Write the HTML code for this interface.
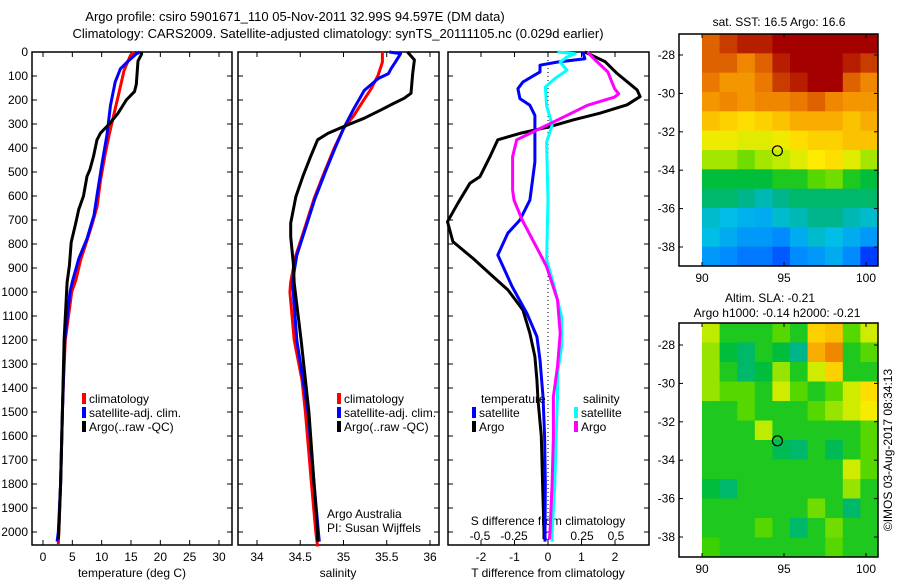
<!DOCTYPE html>
<html><head><meta charset="utf-8"><style>
html,body{margin:0;padding:0;background:#fff;}
svg{display:block;font-family:"Liberation Sans",sans-serif;}
</style></head><body>
<svg id="fig" width="900" height="580" viewBox="0 0 900 580" xmlns="http://www.w3.org/2000/svg">
<rect width="900" height="580" fill="#fff"/>
<text x="295" y="21" font-size="13" text-anchor="middle">Argo profile: csiro 5901671_110 05-Nov-2011 32.99S 94.597E (DM data)</text>
<text x="338" y="38" font-size="13" text-anchor="middle">Climatology: CARS2009. Satellite-adjusted climatology: synTS_20111105.nc (0.029d earlier)</text>
<g id="plots"></g>
</svg>
<script>
// ---- data ----
const depthTicks=[0,100,200,300,400,500,600,700,800,900,1000,1100,1200,1300,1400,1500,1600,1700,1800,1900,2000];
const tempTicks=[0,5,10,15,20,25,30];
const salTicks=[34,34.5,35,35.5,36];
const tdiffTicks=[-2,-1,0,1,2];
const sdiffTicks=[-0.5,-0.25,0,0.25,0.5];
const latTicks=[-28,-30,-32,-34,-36,-38];
const lonTicks=[90,95,100];

const tClimDepth=[0,14,78,175,258,342,425,535,646,715,785,868,950,1000,1200,1367,1500,1800,2000,2050];
const tClimVal=[15.5,14.9,13.8,12.9,12.1,11.3,10.6,9.8,9.2,8.4,7.5,6.4,5.6,4.9,3.8,3.5,3.3,3.0,2.7,2.6];
const tSatDepth=[0,8,36,70,125,222,347,458,597,680,778,861,958,1000,1200,1500,1800,2000,2040];
const tSatVal=[16.5,15.9,14.6,13.2,12.3,11.5,10.9,10.1,9.2,8.7,7.5,6.1,5.0,4.6,3.7,3.3,3.0,2.6,2.4];
const tArgoDepth=[0,9,37,135,165,200,255,297,338,366,435,490,518,600,655,710,793,890,960,1200,1500,1800,2000,2030];
const tArgoVal=[16.8,16.8,16.2,15.9,15.6,14.2,12.8,11.4,9.8,9.2,8.6,8.0,7.5,6.9,6.1,5.6,4.8,4.5,4.1,3.6,3.3,3.0,2.7,2.6];

const sClimDepth=[0,42,97,153,208,264,319,403,500,611,736,847,958,1000,1200,1367,1500,1800,2000,2060];
const sClimVal=[35.45,35.45,35.40,35.32,35.22,35.12,35.0,34.89,34.78,34.66,34.55,34.45,34.39,34.38,34.43,34.52,34.56,34.63,34.68,34.70];
const sSatDepth=[0,7,42,69,90,111,160,236,319,403,500,611,736,847,958,1200,1500,1800,2000,2040];
const sSatVal=[35.53,35.66,35.60,35.55,35.52,35.40,35.24,35.12,35.0,34.90,34.79,34.67,34.56,34.46,34.41,34.46,34.59,34.66,34.71,34.72];
const sArgoDepth=[0,33,89,172,193,214,242,276,311,339,366,436,519,602,713,769,880,963,1200,1500,1800,2000,2040];
const sArgoVal=[35.74,35.82,35.80,35.78,35.70,35.58,35.43,35.24,35.0,34.82,34.70,34.62,34.53,34.45,34.39,34.39,34.42,34.43,34.51,34.60,34.66,34.70,34.70];

const dtSatDepth=[0,28,42,55,83,125,153,194,222,264,366,458,617,700,755,846,978,1089,1186,1283,1436,1600,1800,2000,2040];
const dtSatVal=[1.04,1.1,0.27,-0.24,-0.24,-0.75,-0.9,-0.84,-0.54,-0.39,-0.39,-0.39,-0.54,-0.84,-1.2,-1.5,-1.07,-0.63,-0.33,-0.24,-0.15,-0.1,-0.08,-0.09,-0.09];
const dtArgoDepth=[0,40,89,158,186,220,255,283,311,339,366,436,519,547,630,707,790,860,936,992,1075,1172,1269,1366,1450,1600,1800,2000,2030];
const dtArgoVal=[1.1,1.7,2.06,2.66,2.75,2.36,1.55,0.75,0.06,-0.84,-1.5,-1.73,-2.03,-2.33,-2.69,-3.0,-2.84,-2.24,-1.64,-1.19,-0.75,-0.54,-0.39,-0.33,-0.3,-0.2,-0.16,-0.12,-0.12];
const dsSatDepth=[0,7,21,42,76,111,146,222,305,375,617,866,964,1103,1228,1339,1436,1600,1800,2000,2040];
const dsSatVal=[0.07,0.2,0.14,0.09,0.14,0.05,-0.02,-0.01,0.03,-0.01,0.0,-0.01,0.04,0.1,0.1,0.07,0.07,0.06,0.05,0.03,0.03];
const dsArgoDepth=[0,35,83,153,174,188,222,278,319,366,436,575,617,700,839,894,1033,1172,1311,1436,1600,1800,2000,2030];
const dsArgoVal=[0.29,0.35,0.44,0.49,0.52,0.49,0.29,0.09,-0.06,-0.23,-0.26,-0.26,-0.25,-0.19,-0.06,-0.01,0.07,0.09,0.07,0.04,0.04,0.03,0.015,0.01];

const sstGrid=[
[0.85,0.9,0.95,0.95,1,1,1,1,1,1],
[0.85,0.85,0.8,0.85,0.95,1,1,1,0.95,0.9],
[0.82,0.78,0.78,0.82,0.9,0.95,1,1,0.85,0.8],
[0.78,0.8,0.78,0.8,0.8,0.82,0.85,0.8,0.78,0.78],
[0.72,0.7,0.68,0.7,0.72,0.75,0.75,0.75,0.72,0.75],
[0.64,0.64,0.62,0.62,0.64,0.68,0.7,0.7,0.72,0.72],
[0.56,0.56,0.52,0.56,0.58,0.62,0.66,0.68,0.62,0.56],
[0.42,0.42,0.42,0.42,0.45,0.45,0.5,0.52,0.45,0.42],
[0.38,0.38,0.35,0.32,0.35,0.38,0.38,0.38,0.38,0.38],
[0.3,0.28,0.26,0.25,0.3,0.32,0.35,0.35,0.32,0.3],
[0.28,0.25,0.22,0.22,0.2,0.25,0.3,0.28,0.25,0.22],
[0.22,0.2,0.18,0.18,0.15,0.2,0.22,0.25,0.2,0.12]];
const slaGrid=[
[0.58,0.45,0.45,0.45,0.5,0.45,0.7,0.72,0.5,0.6],
[0.55,0.42,0.38,0.45,0.42,0.35,0.75,0.8,0.45,0.5],
[0.55,0.45,0.38,0.42,0.55,0.45,0.6,0.7,0.45,0.45],
[0.55,0.5,0.5,0.45,0.6,0.5,0.45,0.5,0.6,0.68],
[0.45,0.45,0.5,0.45,0.45,0.45,0.5,0.55,0.6,0.65],
[0.45,0.45,0.45,0.58,0.45,0.45,0.45,0.45,0.45,0.5],
[0.45,0.45,0.45,0.45,0.4,0.38,0.45,0.4,0.45,0.5],
[0.45,0.45,0.45,0.45,0.45,0.45,0.45,0.45,0.6,0.5],
[0.42,0.38,0.45,0.45,0.45,0.45,0.45,0.45,0.55,0.45],
[0.45,0.45,0.45,0.45,0.45,0.45,0.52,0.45,0.38,0.45],
[0.45,0.45,0.45,0.5,0.45,0.38,0.45,0.52,0.45,0.45],
[0.48,0.45,0.45,0.45,0.45,0.45,0.45,0.5,0.45,0.45]];
const floatLon=94.597, floatLat=-32.99;

// ---- drawing ----
const NS="http://www.w3.org/2000/svg";
const root=document.getElementById('plots');
function mk(tag,attrs,parent){const e=document.createElementNS(NS,tag);for(const k in attrs)e.setAttribute(k,attrs[k]);(parent||root).appendChild(e);return e;}
const yD=d=>52+d*0.24;
const TOP=52,BOT=545;

function panel(name,x0,x1){
  const r=mk('rect',{x:x0,y:TOP,width:x1-x0,height:BOT-TOP,fill:'none',stroke:'#000','stroke-width':1.5});
  
  
}
function line(name,depths,vals,fx,color){
  const pts=depths.map((d,i)=>fx(vals[i]).toFixed(1)+','+yD(d).toFixed(1)).join(' ');
  const p=mk('polyline',{points:pts,fill:'none',stroke:color,'stroke-width':3,'stroke-linejoin':'round'});
  
  
}
function txt(name,x,y,s,opts){
  const t=mk('text',Object.assign({x:x,y:y,'font-size':12},opts||{}));t.textContent=s;
  
  
  return t;
}
function legend(name,x,y,color,label){
  const r=mk('rect',{x:x,y:y-10,width:4,height:11,fill:color});
  
  
  txt(name+'-label',x+7,y,label);
}

// panel 1 temperature
const fT=v=>43+v*(219-43)/30;
panel('temperature-panel',32,232);
depthTicks.forEach(d=>{
  mk('line',{x1:32,x2:37,y1:yD(d),y2:yD(d),stroke:'#000'});
  mk('line',{x1:227,x2:232,y1:yD(d),y2:yD(d),stroke:'#000'});
  txt('depth-tick-'+d,28,yD(d)+4,String(d),{'text-anchor':'end'});
});
tempTicks.forEach(v=>{
  mk('line',{x1:fT(v),x2:fT(v),y1:BOT,y2:BOT-5,stroke:'#000'});
  mk('line',{x1:fT(v),x2:fT(v),y1:TOP,y2:TOP+5,stroke:'#000'});
  txt('temp-tick-'+v,fT(v),561,String(v),{'text-anchor':'middle'});
});
txt('temperature-axis-title',132,577,'temperature (deg C)',{'text-anchor':'middle'});
line('temp-climatology',tClimDepth,tClimVal,fT,'#f00');
line('temp-satellite-adj',tSatDepth,tSatVal,fT,'#00f');
line('temp-argo',tArgoDepth,tArgoVal,fT,'#000');
legend('temp-legend-climatology',82,403,'#f00','climatology');
legend('temp-legend-satellite',82,417,'#00f','satellite-adj. clim.');
legend('temp-legend-argo',82,431,'#000','Argo(..raw -QC)');

// panel 2 salinity
const fS=v=>257+(v-34)*(430-257)/2;
panel('salinity-panel',238,439);
depthTicks.forEach(d=>{
  mk('line',{x1:238,x2:243,y1:yD(d),y2:yD(d),stroke:'#000'});
  mk('line',{x1:434,x2:439,y1:yD(d),y2:yD(d),stroke:'#000'});
});
salTicks.forEach(v=>{
  mk('line',{x1:fS(v),x2:fS(v),y1:BOT,y2:BOT-5,stroke:'#000'});
  mk('line',{x1:fS(v),x2:fS(v),y1:TOP,y2:TOP+5,stroke:'#000'});
  txt('sal-tick-'+v,fS(v),561,String(v),{'text-anchor':'middle'});
});
txt('salinity-axis-title',338,577,'salinity',{'text-anchor':'middle'});
line('sal-climatology',sClimDepth,sClimVal,fS,'#f00');
line('sal-satellite-adj',sSatDepth,sSatVal,fS,'#00f');
line('sal-argo',sArgoDepth,sArgoVal,fS,'#000');
legend('sal-legend-climatology',337,403,'#f00','climatology');
legend('sal-legend-satellite',337,417,'#00f','satellite-adj. clim.');
legend('sal-legend-argo',337,431,'#000','Argo(..raw -QC)');
txt('argo-australia-label',327,518,'Argo Australia');
txt('pi-label',327,532,'PI: Susan Wijffels');

// panel 3 differences
const fdT=v=>548+v*33.5;
const fdS=v=>548+v*136;
panel('difference-panel',448,649);
depthTicks.forEach(d=>{
  mk('line',{x1:448,x2:453,y1:yD(d),y2:yD(d),stroke:'#000'});
  mk('line',{x1:644,x2:649,y1:yD(d),y2:yD(d),stroke:'#000'});
});
mk('line',{x1:548,x2:548,y1:TOP,y2:528,stroke:'#000','stroke-dasharray':'1,3'});
tdiffTicks.forEach(v=>{
  mk('line',{x1:fdT(v),x2:fdT(v),y1:BOT,y2:BOT-5,stroke:'#000'});
  mk('line',{x1:fdT(v),x2:fdT(v),y1:TOP,y2:TOP+5,stroke:'#000'});
  txt('tdiff-tick-'+v,fdT(v),561,String(v),{'text-anchor':'middle'});
});
sdiffTicks.forEach(v=>{
  txt('sdiff-tick-'+v,fdS(v),540,String(v),{'text-anchor':'middle'});
});
txt('sdiff-axis-title',548,525,'S difference from climatology',{'text-anchor':'middle'});
txt('tdiff-axis-title',548,577,'T difference from climatology',{'text-anchor':'middle'});
line('tdiff-argo',dtArgoDepth,dtArgoVal,fdT,'#000');
line('tdiff-satellite',dtSatDepth,dtSatVal,fdT,'#00f');
line('sdiff-satellite',dsSatDepth,dsSatVal,fdS,'#0ff');
line('sdiff-argo',dsArgoDepth,dsArgoVal,fdS,'#f0f');
txt('tdiff-legend-title',481,403,'temperature');
txt('sdiff-legend-title',583,403,'salinity');
legend('tdiff-legend-satellite',472,417,'#00f','satellite');
legend('tdiff-legend-argo',472,431,'#000','Argo');
legend('sdiff-legend-satellite',574,417,'#0ff','satellite');
legend('sdiff-legend-argo',574,431,'#f0f','Argo');

// maps
const stops=[[0,[0,0,200]],[0.12,[0,60,255]],[0.2,[0,140,255]],[0.28,[0,190,230]],[0.35,[0,180,140]],[0.42,[0,190,60]],[0.48,[60,210,0]],[0.58,[190,235,0]],[0.66,[255,235,0]],[0.74,[250,180,0]],[0.82,[235,120,0]],[0.9,[200,60,0]],[1,[165,0,0]]];
function cmap(v){for(let i=1;i<stops.length;i++){if(v<=stops[i][0]){const a=stops[i-1],b=stops[i],t=(v-a[0])/(b[0]-a[0]);const c=a[1].map((x,j)=>Math.round(x+(b[1][j]-x)*t));return 'rgb('+c.join(',')+')';}}return 'rgb(165,0,0)';}
function map(name,grid,bx0,by0,bx1,by1,lat28y,lat38y,lon90x,lon100x){
  const fLon=l=>lon90x+(l-90)*(lon100x-lon90x)/10;
  const fLat=l=>lat28y+(-28-l)*(lat38y-lat28y)/10;
  const rows=grid.length,cols=grid[0].length;
  const cw=(bx1-lon90x)/cols,ch=(by1-by0)/rows;
  grid.forEach((row,r)=>row.forEach((v,c)=>{
    const cell=mk('rect',{x:(lon90x+c*cw).toFixed(2),y:(by0+r*ch).toFixed(2),width:(cw+0.5).toFixed(2),height:(ch+0.5).toFixed(2),fill:cmap(v)});
    
    
  }));
  const fr=mk('rect',{x:bx0,y:by0,width:bx1-bx0,height:by1-by0,fill:'none',stroke:'#000','stroke-width':1.5});
  
  
  latTicks.forEach(l=>{
    mk('line',{x1:bx0,x2:bx0+4,y1:fLat(l),y2:fLat(l),stroke:'#000'});
    mk('line',{x1:bx1-4,x2:bx1,y1:fLat(l),y2:fLat(l),stroke:'#000'});
    txt(name+'-lat-tick',675,fLat(l)+4,String(l),{'text-anchor':'end'});
  });
  lonTicks.forEach(l=>{
    mk('line',{x1:fLon(l),x2:fLon(l),y1:by1,y2:by1-4,stroke:'#000'});
    mk('line',{x1:fLon(l),x2:fLon(l),y1:by0,y2:by0+4,stroke:'#000'});
    txt(name+'-lon-tick',fLon(l),by1+16,String(l),{'text-anchor':'middle'});
  });
  const m=mk('circle',{cx:fLon(floatLon),cy:fLat(floatLat),r:5,fill:'none',stroke:'#000','stroke-width':1.2});
  
  
}
map('sst-map',sstGrid,679,34,878,266,55,247,702,866);
txt('sst-map-title',779,26,'sat. SST: 16.5 Argo: 16.6',{'text-anchor':'middle'});
map('sla-map',slaGrid,679,323,878,557,345,537,702,866);
txt('sla-map-title-1',770,302,'Altim. SLA: -0.21',{'text-anchor':'middle'});
txt('sla-map-title-2',777,317,'Argo h1000: -0.14 h2000: -0.21',{'text-anchor':'middle'});
txt('copyright-label',892,450,'©IMOS 03-Aug-2017 08:34:13',{'text-anchor':'middle',transform:'rotate(-90 892 450)'});
</script>
</body></html>
